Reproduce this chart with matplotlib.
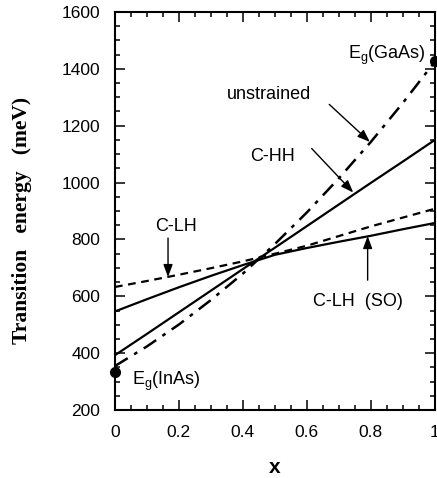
import matplotlib
matplotlib.use("Agg")
import matplotlib.pyplot as plt
from matplotlib.ticker import MultipleLocator

x = [0.0, 0.1, 0.2, 0.3, 0.4, 0.5, 0.6, 0.7, 0.8, 0.9, 1.0]
unstrained = [355, 424, 501, 587, 680, 784, 895, 1015, 1143, 1280, 1425]
c_hh = [393, 468, 544, 620, 696, 771, 847, 923, 999, 1074, 1150]
c_lh = [633, 654, 676, 699, 723, 750, 778, 812, 846, 877, 908]
c_lh_so = [547, 590, 632, 672, 710, 746, 770, 792, 813, 836, 858]

eg_inas = (0.0, 335)
eg_gaas = (1.0, 1428)

xticks = [0, 0.2, 0.4, 0.6, 0.8, 1.0]
xticklabels = ["0", "0.2", "0.4", "0.6", "0.8", "1"]
yticks = [200, 400, 600, 800, 1000, 1200, 1400, 1600]

sans = ["Liberation Sans", "DejaVu Sans"]
serif = ["Liberation Serif", "DejaVu Serif"]

fig = plt.figure(figsize=(4.37, 4.78), dpi=100)
ax = fig.add_axes([0.263, 0.142, 0.732, 0.833])

lw = 1.6
ax.plot(x, unstrained, color="black", lw=1.8, dashes=(6, 3, 1.5, 3))
ax.plot(x, c_hh, color="black", lw=lw)
ax.plot(x, c_lh, color="black", lw=lw, dashes=(3.5, 2.5))
ax.plot(x, c_lh_so, color="black", lw=lw)
ax.plot([eg_inas[0], eg_gaas[0]], [eg_inas[1], eg_gaas[1]], "o", color="black",
        ms=7, clip_on=False, zorder=5)

ax.set_xlim(0, 1)
ax.set_ylim(200, 1600)
ax.set_xticks(xticks)
ax.set_xticklabels(xticklabels)
ax.set_yticks(yticks)
ax.xaxis.set_minor_locator(MultipleLocator(0.05))
ax.yaxis.set_minor_locator(MultipleLocator(50))
ax.tick_params(which="both", direction="in", top=True, right=True, width=1.1)
ax.tick_params(which="major", length=7)
ax.tick_params(which="minor", length=3.6)
ax.tick_params(axis="x", which="major", pad=11)
ax.tick_params(axis="y", which="major", pad=10.5)
for s in ax.spines.values():
    s.set_linewidth(1.5)
for lab in ax.get_xticklabels() + ax.get_yticklabels():
    lab.set_family(sans)
    lab.set_fontsize(12.5)

ax.set_ylabel("Transition   energy   (meV)", family=serif, fontweight="bold",
              fontsize=15.5, va="center")
ax.yaxis.set_label_coords(-0.29, 0.477)
ax.set_xlabel("x", family=sans, fontweight="bold", fontsize=15, labelpad=13)

tk = dict(family=sans, fontsize=13, color="black")
arr = dict(arrowstyle="-|>,head_length=0.75,head_width=0.28", color="black", lw=1.0,
           shrinkA=0, shrinkB=0)

ax.text(0.483, 1308, "unstrained", ha="center", va="center", **tk)
ax.annotate("", xy=(0.797, 1143), xytext=(0.67, 1275), arrowprops=arr)
ax.text(0.494, 1090, "C-HH", ha="center", va="center", **tk)
ax.annotate("", xy=(0.745, 965), xytext=(0.615, 1120), arrowprops=arr)
ax.text(0.97, 1448, r"E$_\mathregular{g}$(GaAs)", ha="right", va="center", **tk)
ax.text(0.19, 844, "C-LH", ha="center", va="center", **tk)
ax.annotate("", xy=(0.166, 668), xytext=(0.166, 805), arrowprops=arr)
ax.text(0.76, 583, "C-LH  (SO)", ha="center", va="center", **tk)
ax.annotate("", xy=(0.79, 812), xytext=(0.79, 657), arrowprops=arr)
ax.text(0.053, 300, r"E$_\mathregular{g}$(InAs)", ha="left", va="center", **tk)

fig.savefig("out.png", dpi=100)
